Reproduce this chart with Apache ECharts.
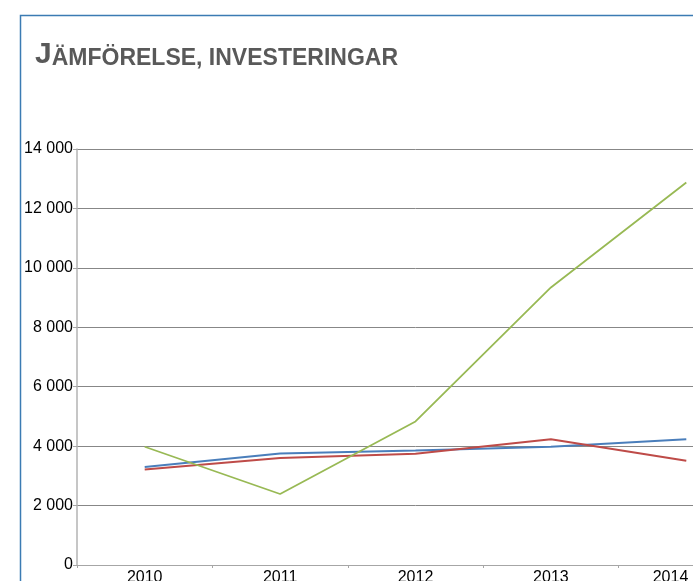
<!DOCTYPE html>
<html>
<head>
<meta charset="utf-8">
<script src="https://cdn.jsdelivr.net/npm/echarts@6/dist/echarts.min.js"></script>
<style>
  html, body { margin: 0; padding: 0; background: #fff; overflow: hidden; }
  #chart { width: 754px; height: 581px; }
</style>
</head>
<body>
<div id="chart"></div>
<script>
// years on the x axis
var years = ['2010', '2011', '2012', '2013', '2014'];
// three series, values
var blueValues = [3300, 3750, 3850, 3980, 4230];
var redValues = [3210, 3600, 3740, 4230, 3510];
var greenValues = [3980, 2390, 4830, 9340, 12870];

var yMin = 0;
var yMax = 14000;
var yStep = 2000;

// last year label is pulled in so it stays inside the window
var yearItems = years.map(function (y, i) {
    if (i === years.length - 1) {
        return { value: y, textStyle: { align: 'right', padding: [0, -2, 0, 0] } };
    }
    return y;
});

// the plot runs past the right edge of the window, so the div is wider and gets cropped
var mychart = echarts.init(document.getElementById('chart'));

var option = {
    animation: false,
    title: {
        text: '{a|J}{b|ÄMFÖRELSE, INVESTERINGAR}',
        left: 35,
        top: 38,
        padding: 0,
        textStyle: {
            rich: {
                a: { fontFamily: 'Liberation Sans', fontWeight: 'bold', fontSize: 30, color: '#595959', lineHeight: 32, verticalAlign: 'bottom' },
                b: { fontFamily: 'Liberation Sans', fontWeight: 'bold', fontSize: 23, color: '#595959', lineHeight: 32, verticalAlign: 'bottom' }
            }
        }
    },
    graphic: [
        {
            type: 'polyline',
            silent: true,
            shape: { points: [[20.5, 600], [20.5, 15.5], [760, 15.5]] },
            style: { stroke: '#3b7bb3', lineWidth: 1.5, fill: null }
        }
    ],
    grid: {
        left: 77,
        right: 0,
        top: 149,
        bottom: 16,
        containLabel: false,
        outerBoundsMode: 'none'
    },
    xAxis: {
        type: 'category',
        data: yearItems,
        boundaryGap: true,
        axisLine: { lineStyle: { color: '#a6a6a6', width: 1 } },
        axisTick: { show: true, length: 3, inside: false, lineStyle: { color: '#a6a6a6' } },
        axisLabel: {
            margin: 5,
            color: '#000',
            fontFamily: 'Liberation Sans',
            fontSize: 16
        },
        splitLine: { show: false }
    },
    yAxis: {
        type: 'value',
        min: yMin,
        max: yMax,
        interval: yStep,
        axisLine: { show: true, lineStyle: { color: '#b3b3b3', width: 1.5 } },
        axisTick: { show: true, length: 4, lineStyle: { color: '#a6a6a6' } },
        axisLabel: {
            margin: 4,
            color: '#000',
            fontFamily: 'Liberation Sans',
            fontSize: 16,
            formatter: function (v) {
                return String(v).replace(/\B(?=(\d{3})+(?!\d))/g, ' ');
            }
        },
        splitLine: { show: true, lineStyle: { color: '#878787', width: 1 } }
    },
    series: [
        {
            name: 'blue',
            type: 'line',
            data: blueValues,
            symbol: 'none',
            lineStyle: { color: '#4a7ebb', width: 2 },
            itemStyle: { color: '#4a7ebb' }
        },
        {
            name: 'red',
            type: 'line',
            data: redValues,
            symbol: 'none',
            lineStyle: { color: '#be4b48', width: 2 },
            itemStyle: { color: '#be4b48' }
        },
        {
            name: 'green',
            type: 'line',
            data: greenValues,
            symbol: 'none',
            lineStyle: { color: '#98b954', width: 1.8 },
            itemStyle: { color: '#98b954' }
        }
    ]
};

mychart.setOption(option);
</script>
</body>
</html>
